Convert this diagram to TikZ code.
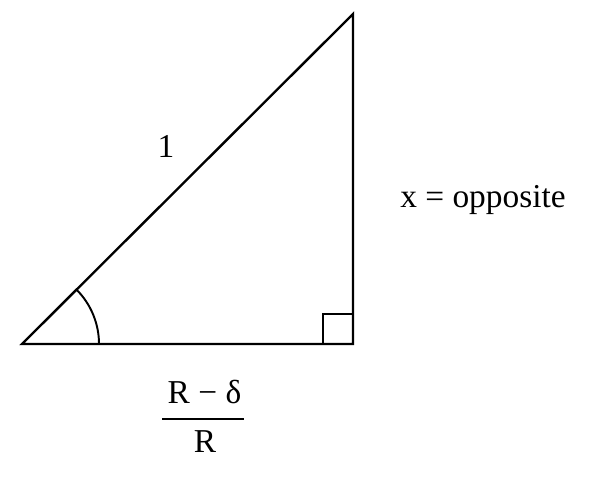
\documentclass[tikz,border=0pt]{standalone}
\usepackage{fontspec}
\setmainfont{Liberation Serif}
\usetikzlibrary{positioning, calc}

\begin{document}
\begin{tikzpicture}[
    x=0.02cm, y=-0.02cm,
    side/.style={line width=1.35pt, black, line join=miter},
    anglemark/.style={line width=1.1pt, black},
    lbl/.style={font=\fontsize{19}{22}\selectfont, inner sep=0pt, anchor=base}
]
    \useasboundingbox (0,0) rectangle (601,484);

    % corners of the triangle
    \coordinate (A) at (22,344);
    \coordinate (B) at (353,344);
    \coordinate (C) at (353,14);

    \draw[side] (A) -- (B) -- (C) -- cycle;

    % right angle and angle marks
    \draw[anglemark] ($(B)+(-30,0)$) -- ++(0,-30) -- ++(30,0);
    \draw[anglemark] ($(A)+(77,0)$) arc[start angle=0, end angle=44.9, radius=77*0.02cm];

    \node[lbl] (hyp) at (166,157) {1};
    \node[lbl] (opp) at (483,207) {x = opposite};

    % adjacent side as a fraction
    \node[lbl] (num) at (204.5,403) {R − δ};
    \node[lbl] (den) at (205,452) {R};
    \coordinate (barL) at (162,419);
    \coordinate (barR) at (244,419);
    \draw[line width=1.6pt] (barL) -- (barR);
\end{tikzpicture}
\end{document}
